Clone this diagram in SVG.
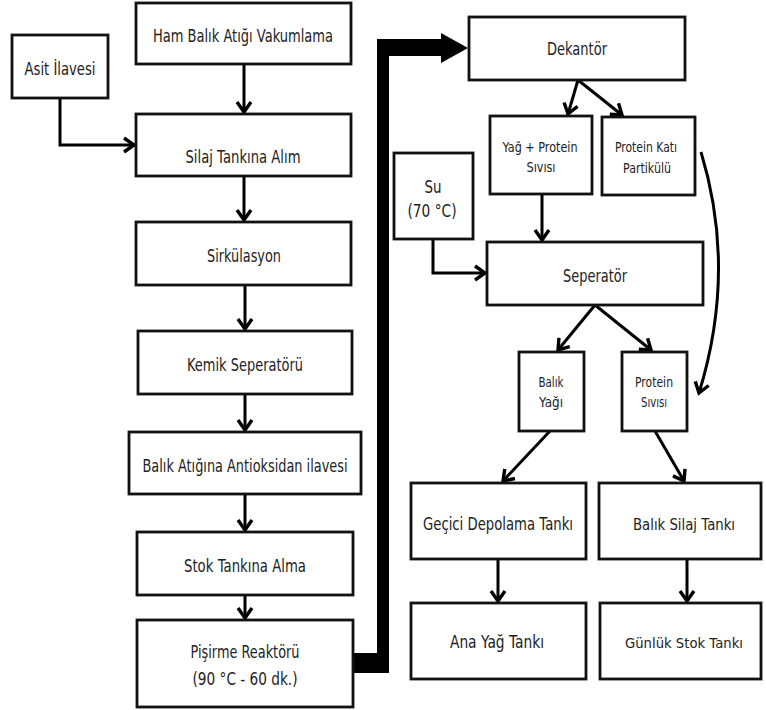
<svg xmlns="http://www.w3.org/2000/svg" width="766" height="710" viewBox="0 0 766 710">
<style>
.b{fill:#fff;stroke:#111;stroke-width:2.8}
.t{font-family:"DejaVu Sans","Liberation Sans",sans-serif;font-size:17.5px;fill:#222;text-anchor:middle}
.s{font-size:14px}
.r{font-size:16px}
.q{font-size:14.5px}
.c{fill:none;stroke:#000;stroke-width:3;marker-end:url(#ah)}
</style>
<defs>
<marker id="ah" markerUnits="userSpaceOnUse" markerWidth="20" markerHeight="20" viewBox="-12 -10 14 20" refX="0" refY="0" orient="auto">
<path d="M-10,-7 L0,0 L-10,7" fill="none" stroke="#000" stroke-width="3.4"/>
</marker>
</defs>
<rect width="766" height="710" fill="#fff"/>
<g id="connectors">
<path class="c" d="M244,64 V112"/>
<path class="c" d="M60,98 V145 H134"/>
<path class="c" d="M244,176 V220"/>
<path class="c" d="M245,285 V329"/>
<path class="c" d="M245,394 V430"/>
<path class="c" d="M245,494 V530"/>
<path class="c" d="M245,595 V618"/>
<path d="M353,653 H377 V39 H443 V56 H389 V673 H353 Z" fill="#000"/>
<path d="M441,33 L468,48 L441,63 Z" fill="#000"/>
<path class="c" d="M578,80 L568,114"/>
<path class="c" d="M578,80 L622,115"/>
<path class="c" d="M542,194 V240"/>
<path class="c" d="M433,239 V273 H485"/>
<path class="c" d="M701,152 Q737,270 699,393"/>
<path class="c" d="M595,305 L558,350"/>
<path class="c" d="M595,305 L651,350"/>
<path class="c" d="M550,431 L503,481"/>
<path class="c" d="M655,431 L684,481"/>
<path class="c" d="M498,559 V601"/>
<path class="c" d="M687,559 V601"/>
</g>
<g id="ham"><rect class="b" x="136" y="3" width="215" height="61"/><text class="t" x="243" y="42" textLength="180" lengthAdjust="spacingAndGlyphs">Ham Balık Atığı Vakumlama</text></g>
<g id="asit"><rect class="b" x="12" y="35" width="96" height="63"/><text class="t" x="60" y="75" textLength="71" lengthAdjust="spacingAndGlyphs">Asit İlavesi</text></g>
<g id="silaj"><rect class="b" x="136" y="114" width="215" height="62"/><text class="t" x="243" y="163" textLength="115" lengthAdjust="spacingAndGlyphs">Silaj Tankına Alım</text></g>
<g id="sirkulasyon"><rect class="b" x="136" y="222" width="215" height="63"/><text class="t" x="244" y="262" textLength="74" lengthAdjust="spacingAndGlyphs">Sirkülasyon</text></g>
<g id="kemik"><rect class="b" x="138" y="331" width="214" height="63"/><text class="t" x="245" y="371" textLength="116" lengthAdjust="spacingAndGlyphs">Kemik Seperatörü</text></g>
<g id="antioksidan"><rect class="b" x="129" y="432" width="232" height="62"/><text class="t" x="245" y="472" textLength="205" lengthAdjust="spacingAndGlyphs">Balık Atığına Antioksidan ilavesi</text></g>
<g id="stok"><rect class="b" x="137" y="532" width="216" height="63"/><text class="t" x="245" y="572" textLength="122" lengthAdjust="spacingAndGlyphs">Stok Tankına Alma</text></g>
<g id="pisirme"><rect class="b" x="137" y="620" width="216" height="87"/><text class="t" x="245" y="658" textLength="109" lengthAdjust="spacingAndGlyphs">Pişirme Reaktörü</text><text class="t" x="245" y="685" textLength="105" lengthAdjust="spacingAndGlyphs">(90 °C - 60 dk.)</text></g>
<g id="dekantor"><rect class="b" x="469" y="17" width="216" height="63"/><text class="t" x="577" y="55" textLength="60" lengthAdjust="spacingAndGlyphs">Dekantör</text></g>
<g id="yagprotein"><rect class="b" x="490" y="116" width="102" height="78"/><text class="t s" x="540" y="152" textLength="75" lengthAdjust="spacingAndGlyphs">Yağ + Protein</text><text class="t s" x="541" y="172" textLength="29" lengthAdjust="spacingAndGlyphs">Sıvısı</text></g>
<g id="proteinkati"><rect class="b" x="602" y="117" width="93" height="78"/><text class="t s" x="646" y="152" textLength="62" lengthAdjust="spacingAndGlyphs">Protein Katı</text><text class="t s" x="647" y="173" textLength="48" lengthAdjust="spacingAndGlyphs">Partikülü</text></g>
<g id="su"><rect class="b" x="394" y="153" width="79" height="86"/><text class="t" x="433" y="193" textLength="17" lengthAdjust="spacingAndGlyphs">Su</text><text class="t" x="432" y="217" textLength="49" lengthAdjust="spacingAndGlyphs">(70 °C)</text></g>
<g id="seperator"><rect class="b" x="487" y="242" width="216" height="63"/><text class="t" x="595" y="282" textLength="64" lengthAdjust="spacingAndGlyphs">Seperatör</text></g>
<g id="balikyagi"><rect class="b" x="519" y="352" width="65" height="79"/><text class="t s" x="551" y="387" textLength="25" lengthAdjust="spacingAndGlyphs">Balık</text><text class="t s" x="551" y="407" textLength="24" lengthAdjust="spacingAndGlyphs">Yağı</text></g>
<g id="proteinsivisi"><rect class="b" x="622" y="352" width="65" height="79"/><text class="t s" x="654" y="387" textLength="38" lengthAdjust="spacingAndGlyphs">Protein</text><text class="t s" x="654" y="407" textLength="26" lengthAdjust="spacingAndGlyphs">Sıvısı</text></g>
<g id="gecici"><rect class="b" x="411" y="483" width="175" height="76"/><text class="t" x="498" y="530" textLength="150" lengthAdjust="spacingAndGlyphs">Geçici Depolama Tankı</text></g>
<g id="baliksilaj"><rect class="b" x="599" y="483" width="162" height="76"/><text class="t r" x="684" y="530" textLength="102" lengthAdjust="spacingAndGlyphs">Balık Silaj Tankı</text></g>
<g id="anayag"><rect class="b" x="411" y="603" width="175" height="76"/><text class="t" x="497" y="648" textLength="94" lengthAdjust="spacingAndGlyphs">Ana Yağ Tankı</text></g>
<g id="gunluk"><rect class="b" x="600" y="603" width="161" height="76"/><text class="t q" x="684" y="648" textLength="118" lengthAdjust="spacingAndGlyphs">Günlük Stok Tankı</text></g>
</svg>
